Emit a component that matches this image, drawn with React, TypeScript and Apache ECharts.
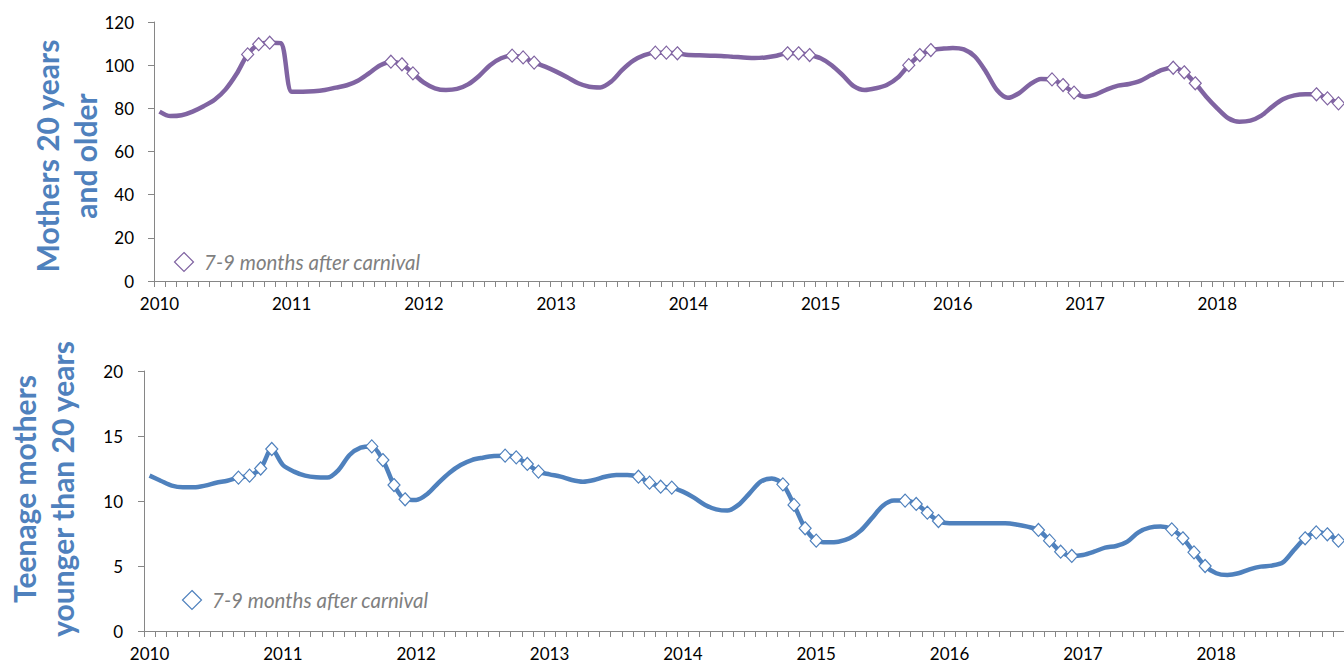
import React, { useEffect, useRef } from "react";
import * as echarts from "echarts";

const YEARS = ["2010", "2011", "2012", "2013", "2014", "2015", "2016", "2017", "2018"];
const MONTHS: string[] = [];
YEARS.forEach((y) => {
  for (let m = 1; m <= 12; m++) MONTHS.push(`${y}-${m < 10 ? "0" + m : m}`);
});

const OLDER_MOTHERS = [
  78.5, 76.4, 76.8, 78.5, 81, 84, 88.8, 96, 105, 109.7, 110.4, 110.2,
  87.7, 87.7, 87.9, 88.5, 89.6, 90.7, 92.8, 96.2, 99.8, 101.6, 100.4, 96.2,
  91.9, 89.3, 88.5, 89, 91.1, 95, 100, 103.2, 104.4, 103.6, 101.2, 99.3,
  97, 94.4, 91.6, 90, 89.7, 92.4, 97.8, 102.1, 104.7, 105.8, 105.8, 105.5,
  104.7, 104.6, 104.4, 104.3, 103.9, 103.6, 103.3, 103.6, 104.4, 105.5, 105.5, 104.7,
  103.2, 100, 95.4, 90.3, 88.5, 89.3, 90.8, 94.2, 100, 104.7, 107, 107.6,
  108, 107.3, 104, 97, 88.5, 84.9, 87, 91.1, 93.6, 93.4, 90.8, 87.3,
  85.4, 86.5, 88.8, 90.5, 91.3, 92.7, 95.4, 97.8, 98.8, 96.7, 91.6, 85.4,
  80, 75.4, 73.8, 74.3, 76.6, 80.8, 84.3, 86, 86.5, 86.5, 84.6, 82.3,
];

const TEEN_MOTHERS = [
  11.95, 11.56, 11.18, 11.05, 11.05, 11.18, 11.4, 11.56, 11.8, 11.95, 12.5, 14.0,
  12.77, 12.26, 11.95, 11.82, 11.8, 12.38, 13.54, 14.1, 14.2, 13.15, 11.23, 10.13,
  10.08, 10.54, 11.4, 12.18, 12.77, 13.15, 13.33, 13.46, 13.49, 13.36, 12.85, 12.26,
  12.05, 11.87, 11.62, 11.49, 11.62, 11.87, 12, 12, 11.87, 11.41, 11.1, 11.03,
  10.72, 10.26, 9.7, 9.36, 9.26, 9.7, 10.59, 11.49, 11.74, 11.28, 9.7, 7.9,
  6.95, 6.82, 6.87, 7.13, 7.72, 8.67, 9.64, 10.03, 10.03, 9.77, 9.1, 8.46,
  8.28, 8.28, 8.28, 8.28, 8.28, 8.28, 8.2, 8.03, 7.77, 6.95, 6.1, 5.77,
  5.85, 6.1, 6.41, 6.54, 6.87, 7.59, 7.95, 8.03, 7.82, 7.13, 6.05, 5.0,
  4.44, 4.31, 4.44, 4.74, 4.95, 5.03, 5.28, 6.23, 7.13, 7.59, 7.44, 6.95,
];

const OLDER_CARNIVAL_IDX = [8, 9, 10, 21, 22, 23, 32, 33, 34, 45, 46, 47, 57, 58, 59, 68, 69, 70, 81, 82, 83, 92, 93, 94, 105, 106, 107];
const TEEN_CARNIVAL_IDX = [8, 9, 10, 11, 20, 21, 22, 23, 32, 33, 34, 35, 44, 45, 46, 47, 57, 58, 59, 60, 68, 69, 70, 71, 80, 81, 82, 83, 92, 93, 94, 95, 104, 105, 106, 107];

const OLDER_TICKS = { min: 0, max: 120, interval: 20 };
const TEEN_TICKS = { min: 0, max: 20, interval: 5 };

const LEGEND_TEXT = "7-9 months after carnival";
const OLDER_TITLE = "Mothers 20 years\nand older";
const TEEN_TITLE = "Teenage mothers\nyounger than 20 years";

const PURPLE = "#8064A2";
const BLUE = "#4F81BD";
const AXIS_GRAY = "#868686";
const FONT = "Lato, 'Liberation Sans', sans-serif";

function xAxis(gridIndex: number) {
  return {
    type: "category",
    gridIndex,
    data: MONTHS,
    boundaryGap: true,
    axisLine: { show: true, lineStyle: { color: AXIS_GRAY, width: 1 } },
    axisTick: { show: true, interval: 0, length: 6, inside: false, alignWithLabel: false, lineStyle: { color: AXIS_GRAY } },
    axisLabel: {
      interval: 11,
      formatter: (v: string) => v.slice(0, 4),
      fontFamily: FONT,
      fontSize: 17,
      color: "#000",
      margin: 14,
    },
    splitLine: { show: false },
  };
}

function yAxis(gridIndex: number, t: { min: number; max: number; interval: number }, margin: number) {
  return {
    type: "value",
    gridIndex,
    min: t.min,
    max: t.max,
    interval: t.interval,
    axisLine: { show: true, lineStyle: { color: AXIS_GRAY, width: 1 } },
    axisTick: { show: true, length: 6, inside: false, lineStyle: { color: AXIS_GRAY } },
    axisLabel: { fontFamily: FONT, fontSize: 17, color: "#000", margin },
    splitLine: { show: false },
  };
}

function legend(cx: number, cy: number, color: string) {
  return {
    type: "group",
    children: [
      {
        type: "polygon",
        shape: { points: [[cx, cy - 9.5], [cx + 9.5, cy], [cx, cy + 9.5], [cx - 9.5, cy]] },
        style: { fill: "#fff", stroke: color, lineWidth: 1.2 },
      },
      {
        type: "text",
        x: cx + 20,
        y: cy,
        style: {
          text: LEGEND_TEXT,
          font: `italic 20.5px ${FONT}`,
          fill: "#7f7f7f",
          textAlign: "left",
          textVerticalAlign: "middle",
        },
      },
    ],
  };
}

function title(text: string, x: number, y: number) {
  return {
    type: "text",
    x,
    y,
    rotation: Math.PI / 2,
    style: {
      text,
      font: `bold 30px ${FONT}`,
      fill: BLUE,
      textAlign: "center",
      textVerticalAlign: "middle",
      lineHeight: 38,
    },
  };
}

export default function App() {
  const ref = useRef<HTMLDivElement>(null);
  useEffect(() => {
    if (!ref.current) return;
    const chart = echarts.init(ref.current, null, { renderer: "svg" });
    chart.setOption({
      animation: false,
      backgroundColor: "#fff",
      grid: [
        { left: 154, top: 22, height: 259, right: 0, containLabel: false },
        { left: 144, top: 371, height: 260, right: 0, containLabel: false },
      ],
      xAxis: [xAxis(0), xAxis(1)],
      yAxis: [yAxis(0, OLDER_TICKS, 20), yAxis(1, TEEN_TICKS, 21)],
      graphic: [
        title(OLDER_TITLE, 66, 156),
        title(TEEN_TITLE, 43, 489),
        legend(184, 262, PURPLE),
        legend(192, 600, BLUE),
      ],
      series: [
        {
          type: "line",
          xAxisIndex: 0,
          yAxisIndex: 0,
          data: OLDER_MOTHERS,
          smooth: 0.3,
          showSymbol: false,
          symbol: "none",
          lineStyle: { color: PURPLE, width: 4.5 },
          z: 2,
        },
        {
          type: "scatter",
          xAxisIndex: 0,
          yAxisIndex: 0,
          data: OLDER_CARNIVAL_IDX.map((i) => [MONTHS[i], OLDER_MOTHERS[i]]),
          symbol: "diamond",
          symbolSize: [12, 13],
          itemStyle: { color: "#fff", borderColor: PURPLE, borderWidth: 1.2, opacity: 1 },
          z: 3,
        },
        {
          type: "line",
          xAxisIndex: 1,
          yAxisIndex: 1,
          data: TEEN_MOTHERS,
          smooth: 0.3,
          showSymbol: false,
          symbol: "none",
          lineStyle: { color: BLUE, width: 4.5 },
          z: 2,
        },
        {
          type: "scatter",
          xAxisIndex: 1,
          yAxisIndex: 1,
          data: TEEN_CARNIVAL_IDX.map((i) => [MONTHS[i], TEEN_MOTHERS[i]]),
          symbol: "diamond",
          symbolSize: [12, 13],
          itemStyle: { color: "#fff", borderColor: BLUE, borderWidth: 1.2, opacity: 1 },
          z: 3,
        },
      ],
    });
    return () => chart.dispose();
  }, []);
  return (
    <div
      ref={ref}
      style={{ position: "fixed", left: 0, top: 0, width: 1344, height: 665 }}
    />
  );
}
